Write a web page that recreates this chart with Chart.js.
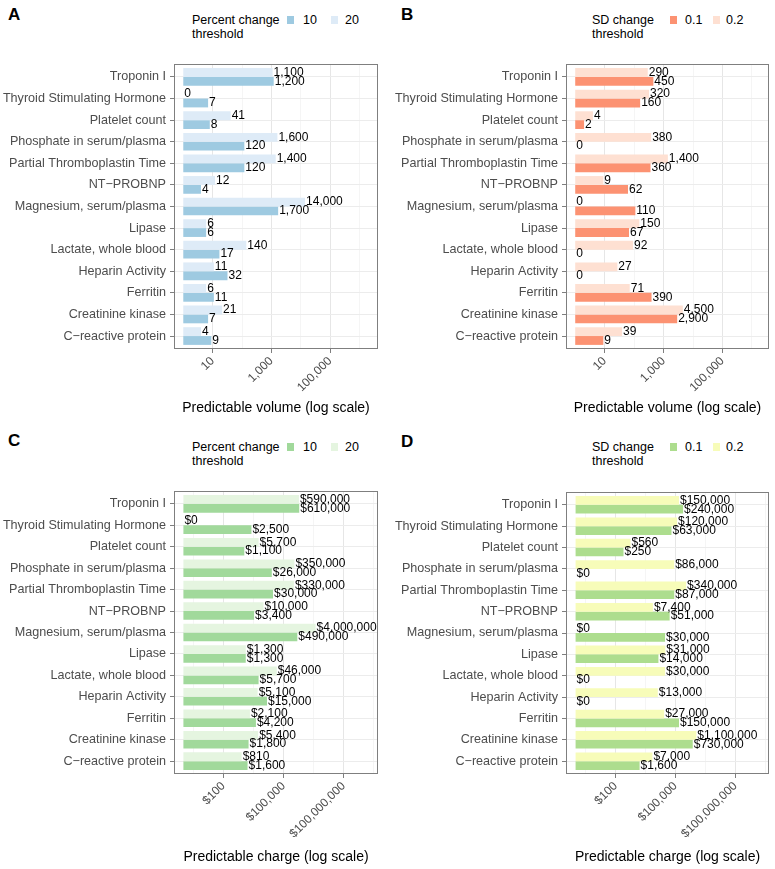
<!DOCTYPE html>
<html><head><meta charset="utf-8">
<script src="https://cdn.jsdelivr.net/npm/chart.js@4"></script>
<style>
body{margin:0;width:775px;height:869px;background:#fff;position:relative;font-family:"Liberation Sans",Arial,Helvetica,sans-serif;overflow:hidden}
canvas{position:absolute}
.letter{position:absolute;font-weight:bold;font-size:17px;line-height:17px;color:#000}
.leg{position:absolute;font-size:12.5px;line-height:14px;color:#000;white-space:nowrap}
.sw{position:absolute;width:7px;height:8px}
</style></head><body>
<div class="letter" style="left:8px;top:6px">A</div>
<div class="letter" style="left:401px;top:6px">B</div>
<div class="letter" style="left:8px;top:432px">C</div>
<div class="letter" style="left:401px;top:433px">D</div>

<div class="leg" style="left:192px;top:13px">Percent change<br>threshold</div>
<div class="sw" style="left:287px;top:16px;background:#9ecae1"></div>
<div class="leg" style="left:303px;top:13px">10</div>
<div class="sw" style="left:331px;top:16px;background:#deebf7"></div>
<div class="leg" style="left:345px;top:13px">20</div>

<div class="leg" style="left:592px;top:13px">SD change<br>threshold</div>
<div class="sw" style="left:670px;top:16px;background:#fc9272"></div>
<div class="leg" style="left:685px;top:13px">0.1</div>
<div class="sw" style="left:713px;top:16px;background:#fee0d2"></div>
<div class="leg" style="left:726px;top:13px">0.2</div>

<div class="leg" style="left:192px;top:440px">Percent change<br>threshold</div>
<div class="sw" style="left:287px;top:443px;background:#a1d99b"></div>
<div class="leg" style="left:303px;top:440px">10</div>
<div class="sw" style="left:331px;top:443px;background:#e5f5e0"></div>
<div class="leg" style="left:345px;top:440px">20</div>

<div class="leg" style="left:592px;top:440px">SD change<br>threshold</div>
<div class="sw" style="left:670px;top:443px;background:#addd8e"></div>
<div class="leg" style="left:685px;top:440px">0.1</div>
<div class="sw" style="left:713px;top:443px;background:#f7fcb9"></div>
<div class="leg" style="left:726px;top:440px">0.2</div>

<canvas id="cA" width="387" height="420" style="left:0px;top:0px"></canvas>
<canvas id="cB" width="385" height="420" style="left:390px;top:0px"></canvas>
<canvas id="cC" width="387" height="439" style="left:0px;top:430px"></canvas>
<canvas id="cD" width="385" height="439" style="left:390px;top:430px"></canvas>

<script>
const categories = ['Troponin I','Thyroid Stimulating Hormone','Platelet count','Phosphate in serum/plasma','Partial Thromboplastin Time','NT\u2212PROBNP','Magnesium, serum/plasma','Lipase','Lactate, whole blood','Heparin Activity','Ferritin','Creatinine kinase','C\u2212reactive protein'];

// Panel A: predictable volume, percent change threshold
const volPct20 = [1100, 0, 41, 1600, 1400, 12, 14000, 6, 140, 11, 6, 21, 4];
const volPct10 = [1200, 7, 8, 120, 120, 4, 1700, 6, 17, 32, 11, 7, 9];
// Panel B: predictable volume, SD change threshold
const volSd02 = [290, 320, 4, 380, 1400, 9, 0, 150, 92, 27, 71, 4500, 39];
const volSd01 = [450, 160, 2, 0, 360, 62, 110, 67, 0, 0, 390, 2900, 9];
// Panel C: predictable charge, percent change threshold
const chgPct20 = [590000, 0, 5700, 350000, 330000, 10000, 4000000, 1300, 46000, 5100, 2100, 5400, 810];
const chgPct10 = [610000, 2500, 1100, 26000, 30000, 3400, 490000, 1300, 5700, 15000, 4200, 1800, 1600];
// Panel D: predictable charge, SD change threshold
const chgSd02 = [150000, 120000, 560, 86000, 340000, 7400, 0, 31000, 30000, 13000, 27000, 1100000, 7000];
const chgSd01 = [240000, 63000, 250, 0, 87000, 51000, 30000, 14000, 0, 0, 150000, 730000, 1600];

const volTickValues = [10, 1000, 100000];
const volTickLabels = ['10', '1,000', '100,000'];
const volMinorTicks = [100, 10000, 1000000];
const chgTickValues = [100, 100000, 100000000];
const chgTickLabels = ['$100', '$100,000', '$100,000,000'];
const chgMinorTicks = [Math.pow(10,0.5), Math.pow(10,3.5), Math.pow(10,6.5), Math.pow(10,9.5)];

const FONT = '"Liberation Sans", Arial, Helvetica, sans-serif';

function fmt(v){ return String(Math.round(v)).replace(/\B(?=(\d{3})+(?!\d))/g, ','); }

const boxPlugin = {
  id: 'panelBox',
  afterDraw(chart){
    const {ctx, chartArea:a} = chart;
    ctx.save();
    ctx.strokeStyle = '#7f7f7f'; ctx.lineWidth = 1;
    ctx.strokeRect(Math.round(a.left)+0.5, Math.round(a.top)+0.5, Math.round(a.right-a.left)-1, Math.round(a.bottom-a.top)-1);
    ctx.restore();
  }
};
const labelPlugin = {
  id: 'barLabels',
  afterDatasetsDraw(chart, args, opts){
    const {ctx} = chart; const xs = chart.scales.x;
    ctx.save();
    ctx.font = '12px ' + FONT; ctx.fillStyle = '#000';
    ctx.textAlign = 'left'; ctx.textBaseline = 'middle';
    chart.data.datasets.forEach((ds, di) => {
      const meta = chart.getDatasetMeta(di);
      meta.data.forEach((el, i) => {
        const v = ds.raw[i];
        const x = v > 0 ? el.x : xs.getPixelForValue(1);
        ctx.fillText(opts.prefix + fmt(v), x + 1, el.y);
      });
    });
    ctx.restore();
  }
};

function makePanel(id, p){
  const isMaj = v => p.tickValues.some(t => Math.abs(t - v) / t < 1e-6);
  const mk = (vals, color) => ({
    data: vals.map((v, i) => ({x: v > 0 ? v : null, y: i})),
    raw: vals, backgroundColor: color, borderWidth: 0, base: 1,
    categoryPercentage: 0.82, barPercentage: 1.0
  });
  new Chart(document.getElementById(id), {
    type: 'bar',
    data: { datasets: [mk(p.light, p.lightColor), mk(p.dark, p.darkColor)] },
    options: {
      indexAxis: 'y', responsive: false, animation: false, devicePixelRatio: 1,
      layout: { padding: { top: p.top, right: p.right, left: 0, bottom: 0 } },
      plugins: { legend: { display: false }, tooltip: { enabled: false }, barLabels: { prefix: p.prefix } },
      scales: {
        x: {
          type: 'logarithmic', min: p.min, max: p.max, bounds: 'data', offset: false,
          afterBuildTicks: s => { s.ticks = p.tickValues.concat(p.minorTicks).sort((a,b)=>a-b).map(v => ({value: v})); },
          afterFit: s => { s.height = p.xh; s.paddingLeft = 0; s.paddingRight = 0; },
          border: { display: false },
          grid: {
            offset: false,
            color: c => isMaj(c.tick.value) ? '#e6e6e6' : '#f1f1f1',
            lineWidth: c => isMaj(c.tick.value) ? 1 : 0.7,
            tickColor: c => isMaj(c.tick.value) ? '#7f7f7f' : 'rgba(0,0,0,0)',
            tickLength: 4
          },
          ticks: {
            autoSkip: false, minRotation: 45, maxRotation: 45, padding: 1,
            color: '#4d4d4d', font: { family: FONT, size: 12 },
            callback: v => { const k = p.tickValues.findIndex(t => Math.abs(t - v) / t < 1e-6); return k >= 0 ? p.tickLabels[k] : ''; }
          },
          title: { display: true, text: p.title, color: '#000', font: { family: FONT, size: 14 }, padding: { top: 0, bottom: p.titlePad } }
        },
        y: {
          type: 'linear', reverse: true, min: -0.6, max: 12.6, bounds: 'data', offset: false,
          afterBuildTicks: s => { s.ticks = categories.map((c, i) => ({value: i})); },
          afterFit: s => { s.width = p.yw; s.paddingTop = 0; s.paddingBottom = 0; },
          border: { display: false },
          grid: { offset: false, color: '#ececec', lineWidth: 1, tickColor: '#7f7f7f', tickLength: 4 },
          ticks: { autoSkip: false, padding: 4, color: '#4d4d4d', font: { family: FONT, size: 12.6 },
            callback: v => categories[v] }
        }
      }
    },
    plugins: [labelPlugin, boxPlugin]
  });
}

makePanel('cA', { light: volPct20, dark: volPct10, lightColor: '#deebf7', darkColor: '#9ecae1',
  min: Math.pow(10,-0.316), max: Math.pow(10,6.63), tickValues: volTickValues, tickLabels: volTickLabels, minorTicks: volMinorTicks,
  title: 'Predictable volume (log scale)', prefix: '', top: 64, right: 9, yw: 174, xh: 420 - 349, titlePad: 3 });
makePanel('cB', { light: volSd02, dark: volSd01, lightColor: '#fee0d2', darkColor: '#fc9272',
  min: Math.pow(10,-0.313), max: Math.pow(10,6.58), tickValues: volTickValues, tickLabels: volTickLabels, minorTicks: volMinorTicks,
  title: 'Predictable volume (log scale)', prefix: '', top: 64, right: 6, yw: 176, xh: 420 - 349, titlePad: 3 });
makePanel('cC', { light: chgPct20, dark: chgPct10, lightColor: '#e5f5e0', darkColor: '#a1d99b',
  min: Math.pow(10,-0.47), max: Math.pow(10,9.72), tickValues: chgTickValues, tickLabels: chgTickLabels, minorTicks: chgMinorTicks,
  title: 'Predictable charge (log scale)', prefix: '$', top: 61, right: 9, yw: 174, xh: 439 - 344, titlePad: 3 });
makePanel('cD', { light: chgSd02, dark: chgSd01, lightColor: '#f7fcb9', darkColor: '#addd8e',
  min: Math.pow(10,-0.48), max: Math.pow(10,9.68), tickValues: chgTickValues, tickLabels: chgTickLabels, minorTicks: chgMinorTicks,
  title: 'Predictable charge (log scale)', prefix: '$', top: 62, right: 6, yw: 176, xh: 439 - 344, titlePad: 3 });
</script>
</body></html>
